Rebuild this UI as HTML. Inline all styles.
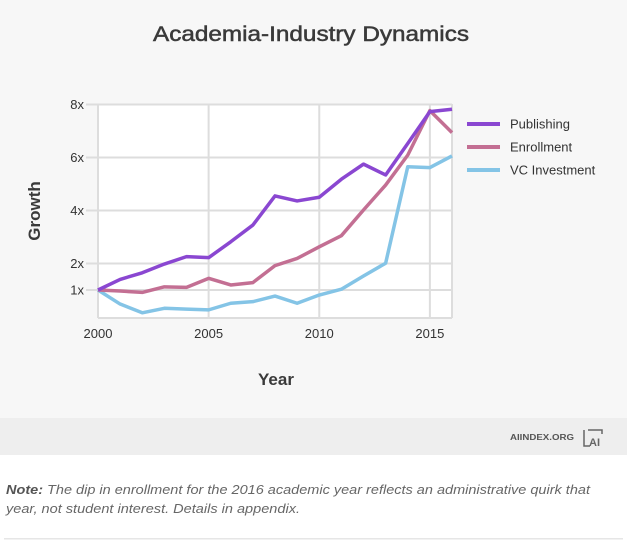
<!DOCTYPE html>
<html><head><meta charset="utf-8"><style>
body{margin:0;width:627px;height:545px;overflow:hidden;background:#fff;font-family:"Liberation Sans",sans-serif;}
</style></head><body>
<svg id="c" width="627" height="545" xmlns="http://www.w3.org/2000/svg">
<rect x="0" y="0" width="627" height="418" fill="#f7f7f7"/>
<rect x="0" y="418" width="627" height="37" fill="#eeeeee"/>
<text x="311" y="41" text-anchor="middle" font-size="21" textLength="316" lengthAdjust="spacingAndGlyphs" fill="#3a3a3a" stroke="#3a3a3a" stroke-width="0.5">Academia-Industry Dynamics</text>
<rect x="98" y="104" width="354" height="214" fill="#fff"/>
<g id="grid"></g>
<g id="series"></g>
<g id="legend"></g>
<text x="40" y="211" transform="rotate(-90 40 211)" text-anchor="middle" font-size="17" font-weight="bold" fill="#3a3a3a">Growth</text>
<text x="276" y="385" text-anchor="middle" font-size="17" font-weight="bold" fill="#3a3a3a">Year</text>
<text x="510" y="440" font-size="8" font-weight="bold" fill="#555" textLength="64" lengthAdjust="spacingAndGlyphs">AIINDEX.ORG</text>
<g fill="none" stroke="#666" stroke-width="1.5">
<path d="M584 430 V446 H590 M588 430 H602 V434"/>
<text x="589" y="446" font-size="11" fill="#666" stroke="none" font-weight="bold">AI</text>
</g>
<text x="6" y="494" font-size="12.5" font-style="italic" fill="#666" textLength="584" lengthAdjust="spacingAndGlyphs"><tspan font-weight="bold" fill="#555">Note:</tspan> The dip in enrollment for the 2016 academic year reflects an administrative quirk that</text>
<text x="6" y="513" font-size="12.5" font-style="italic" fill="#666" textLength="294" lengthAdjust="spacingAndGlyphs">year, not student interest. Details in appendix.</text>
<rect x="4" y="538" width="619" height="1.5" fill="#e6e6e6"/>
</svg>
<script>
const years=[2000,2001,2002,2003,2004,2005,2006,2007,2008,2009,2010,2011,2012,2013,2014,2015,2016];
const publishing=[1,1.40,1.65,1.98,2.26,2.22,2.82,3.45,4.55,4.36,4.50,5.18,5.75,5.34,6.53,7.73,7.82];
const enrollment=[1,0.96,0.91,1.12,1.10,1.44,1.19,1.28,1.92,2.19,2.63,3.05,4.02,4.96,6.09,7.77,6.94];
const vcInvestment=[1,0.47,0.14,0.31,0.28,0.25,0.50,0.56,0.77,0.50,0.81,1.03,1.53,2.01,5.65,5.62,6.06];
const yTicks=[1,2,4,6,8];
const yTickLabels=["1x","2x","4x","6x","8x"];
const xTicks=[2000,2005,2010,2015];
const seriesNames=["Publishing","Enrollment","VC Investment"];
const NS="http://www.w3.org/2000/svg";
const X=v=>98+(v-2000)*(452-98)/16;
const Y=v=>316.5-v*26.5;
const grid=document.getElementById('grid');
function mk(t,a,p){const e=document.createElementNS(NS,t);for(const k in a)e.setAttribute(k,a[k]);p.appendChild(e);return e;}
yTicks.forEach((t,i)=>{
  const l=mk('line',{x1:86,x2:452,y1:Y(t),y2:Y(t),stroke:'#dddddd','stroke-width':2},grid);
  
  
  const tx=mk('text',{x:84,y:Y(t)+4.5,'text-anchor':'end','font-size':13,fill:'#333'},grid);
  tx.textContent=yTickLabels[i];
  
  
});
xTicks.forEach(t=>{
  const l=mk('line',{x1:X(t),x2:X(t),y1:104,y2:318,stroke:'#dddddd','stroke-width':2},grid);
  
  
  const tx=mk('text',{x:X(t),y:338,'text-anchor':'middle','font-size':13,fill:'#333'},grid);
  tx.textContent=t;
  
  
});
const b1=mk('line',{x1:98,x2:452,y1:318,y2:318,stroke:'#dddddd','stroke-width':2},grid);


const b2=mk('line',{x1:452,x2:452,y1:104,y2:318,stroke:'#dddddd','stroke-width':2},grid);


const sg=document.getElementById('series');
const colors=['#8a47d1','#c36f93','#84c4e6'];
const data=[publishing,enrollment,vcInvestment];
[2,1,0].forEach(i=>{
  const p=mk('polyline',{points:data[i].map((v,j)=>X(years[j])+','+Y(v)).join(' '),fill:'none',stroke:colors[i],'stroke-width':3.5,'stroke-linejoin':'round'},sg);
  
  
});
const lg=document.getElementById('legend');
seriesNames.forEach((n,i)=>{
  const y=124+i*23;
  const l=mk('line',{x1:467,x2:500,y1:y,y2:y,stroke:colors[i],'stroke-width':4},lg);
  
  
  const t=mk('text',{x:510,y:y+4.5,'font-size':13,fill:'#333'},lg);
  t.textContent=n;
  
  
});
</script>
</body></html>
